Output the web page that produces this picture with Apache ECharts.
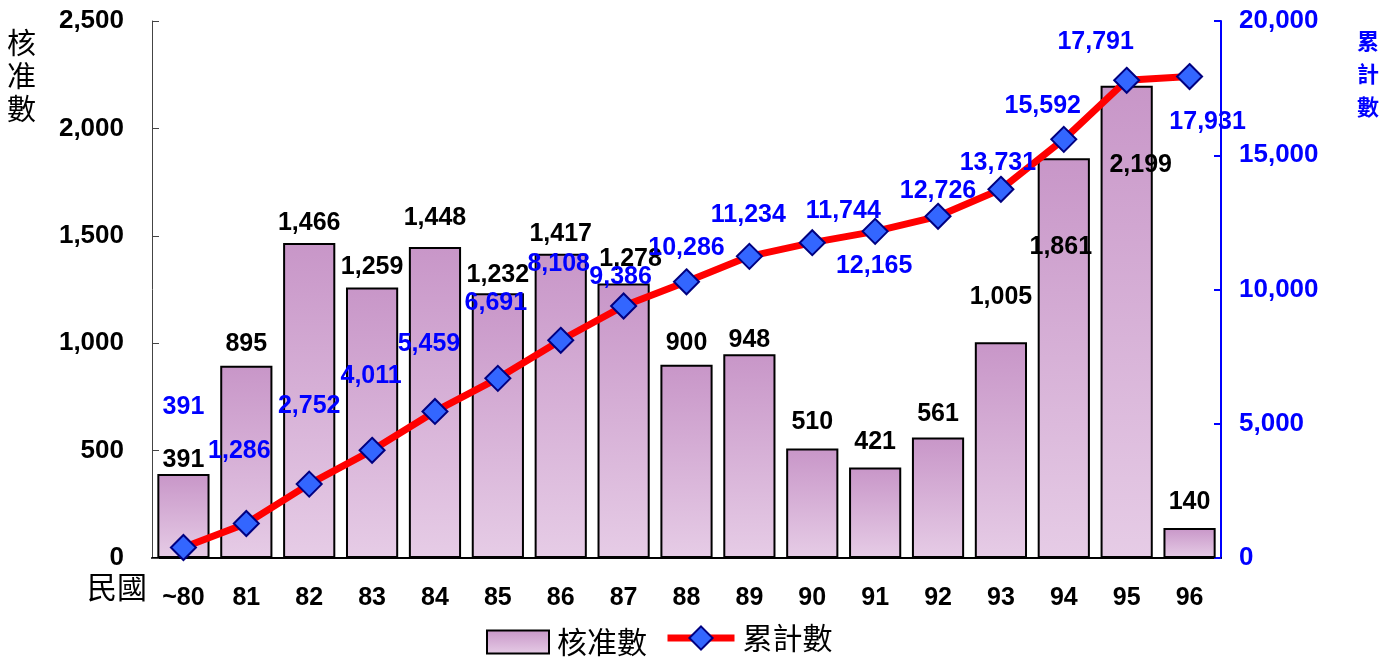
<!DOCTYPE html>
<html><head><meta charset="utf-8">
<script src="https://cdn.jsdelivr.net/npm/echarts@6/dist/echarts.min.js"></script>
<style>html,body{margin:0;padding:0;background:#fff}#c{width:1386px;height:657px}</style>
</head><body><div id="c"></div>
<script>
const categories = ['~80','81','82','83','84','85','86','87','88','89','90','91','92','93','94','95','96'];
const approved = [391,895,1466,1259,1448,1232,1417,1278,900,948,510,421,561,1005,1861,2199,140];
const cumulative = [391,1286,2752,4011,5459,6691,8108,9386,10286,11234,11744,12165,12726,13731,15592,17791,17931];
const leftTicks = [0,500,1000,1500,2000,2500];
const rightTicks = [0,5000,10000,15000,20000];

// label layout offsets (pixels), separate from data
const lineLabelOffsets = [[0,-140],[-7,-72],[0,-78],[-1,-74],[-6,-67],[-2,-75],[-2,-76],[-3,-29],[0,-34],[-1,-41],[31,-32],[-1,35],[0,-25],[-3,-26],[-21,-33],[-31,-38],[18,46]];
const barLabelOffsets = [[0,4],[0,-4],[0,-2],[0,-3],[0,-11],[0,-1],[0,-2],[7,-7],[0,-4],[0,3],[0,-9],[0,-8],[0,-6],[0,-28],[-3,106],[14,97],[0,-8]];

const CJK = '"Noto Sans CJK TC","Noto Sans CJK SC",sans-serif';
const LAT = '"Liberation Sans",Arial,sans-serif';
const fmt = v => v.toLocaleString('en-US');

const chart = echarts.init(document.getElementById('c'));
chart.setOption({
  animation:false,
  backgroundColor:'#fff',
  grid:{left:152,right:165,top:21,bottom:99,containLabel:false},
  legend:[{
    left:481,top:622,itemWidth:62,itemHeight:23,
    icon:'rect',
    itemStyle:{borderColor:'#000',borderWidth:2},
    textStyle:{fontFamily:CJK,fontSize:30,color:'#000',padding:[0,0,0,3]},
    data:['核准數']
  },{
    left:659,top:618,itemWidth:67,itemHeight:29,
    lineStyle:{width:7},
    textStyle:{fontFamily:CJK,fontSize:30,color:'#000',padding:[0,0,0,3]},
    data:['累計數']
  }],
  xAxis:{
    type:'category',data:categories,boundaryGap:true,
    axisLine:{lineStyle:{color:'#000',width:2}},
    axisTick:{inside:true,length:8,lineStyle:{color:'#555'}},
    axisLabel:{margin:28,fontFamily:LAT,fontWeight:'bold',fontSize:25,color:'#000'}
  },
  yAxis:[{
    type:'value',min:0,max:2500,interval:500,
    axisLine:{show:true,lineStyle:{color:'#444',width:1}},
    axisTick:{show:true,inside:true,length:7,lineStyle:{color:'#444'}},
    splitLine:{show:false},
    axisLabel:{margin:28,fontFamily:LAT,fontWeight:'bold',fontSize:26,color:'#000',formatter:v=>fmt(v)}
  },{
    type:'value',min:0,max:20000,interval:5000,position:'right',
    axisLine:{show:true,lineStyle:{color:'#0000ff',width:2}},
    axisTick:{show:true,inside:true,length:7,lineStyle:{color:'#0000ff',width:2}},
    splitLine:{show:false},
    axisLabel:{margin:18,fontFamily:LAT,fontWeight:'bold',fontSize:26,color:'#0000ff',formatter:v=>fmt(v)}
  }],
  graphic:[
    {type:'text',left:7,top:26,style:{text:'核\n准\n數',font:'29px '+CJK,fill:'#000',lineHeight:33}},
    {type:'text',left:87,top:572,style:{text:'民國',font:'30px '+CJK,fill:'#000'}},
    {type:'text',left:1357,top:24,style:{text:'累\n計\n數',font:'bold 22px '+CJK,fill:'#0000ff',lineHeight:33}}
  ],
  series:[{
    name:'核准數',type:'bar',yAxisIndex:0,barWidth:'83%',
    itemStyle:{
      color:new echarts.graphic.LinearGradient(0,0,0,1,[{offset:0,color:'#c896c8'},{offset:1,color:'#e6cce6'}]),
      borderColor:'#000',borderWidth:2
    },
    data:approved.map((v,i)=>({value:v,label:{offset:barLabelOffsets[i]}})),
    label:{show:true,position:'top',distance:5,fontFamily:LAT,fontWeight:'bold',fontSize:25,color:'#000',formatter:p=>fmt(p.value)},
    z:2
  },{
    name:'累計數',type:'line',yAxisIndex:1,
    symbol:'diamond',symbolSize:25,
    lineStyle:{color:'#ff0000',width:7},
    itemStyle:{color:'#3366ff',borderColor:'#000080',borderWidth:2},
    data:cumulative.map((v,i)=>({value:v,label:{offset:lineLabelOffsets[i]}})),
    label:{show:true,position:'inside',fontFamily:LAT,fontWeight:'bold',fontSize:25,color:'#0000ff',formatter:p=>fmt(p.value)},
    z:5
  }]
});
</script></body></html>
